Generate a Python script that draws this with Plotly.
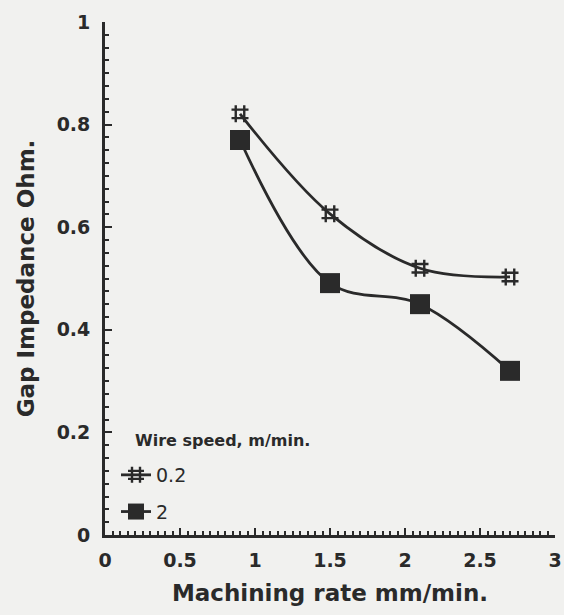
import plotly.graph_objects as go

# Data
rate_02 = [0.9, 1.5, 2.1, 2.7]
imp_02 = [0.821, 0.626, 0.520, 0.503]
rate_2 = [0.9, 1.5, 2.1, 2.7]
imp_2 = [0.770, 0.491, 0.450, 0.320]
series_names = ["0.2", "2"]
legend_title = "Wire speed, m/min."
x_ticks = [0, 0.5, 1, 1.5, 2, 2.5, 3]
x_tick_text = ["0", "0.5", "1", "1.5", "2", "2.5", "3"]
y_ticks = [0, 0.2, 0.4, 0.6, 0.8, 1]
y_tick_text = ["0", "0.2", "0.4", "0.6", "0.8", "1"]

ink = "#2a2a2a"
bg = "#f1f1ef"
dv = "DejaVu Sans, Verdana, sans-serif"

W, H = 564, 615
L, R, T, B = 105, 9, 22, 80

fig = go.Figure()
fig.add_trace(go.Scatter(
    x=rate_02, y=imp_02, name=series_names[0], mode="lines+markers",
    legendgroup="a",
    line=dict(color=ink, width=2.8, shape="spline", smoothing=1.0),
    marker=dict(symbol="hash-open", size=17, color=ink, line=dict(width=2.4, color=ink)),
))
fig.add_trace(go.Scatter(
    x=rate_2, y=imp_2, name=series_names[1], mode="lines+markers",
    legendgroup="b",
    line=dict(color=ink, width=2.8, shape="spline", smoothing=1.0),
    marker=dict(symbol="square", size=20, color=ink, line=dict(width=0)),
))

def px_x(p):
    return (p - L) / (W - L - R)

def px_y(p):
    return (H - B - p) / (H - T - B)

fig.add_annotation(
    text="<b>" + legend_title + "</b>", xref="paper", yref="paper",
    x=px_x(133), y=px_y(440), xanchor="left", yanchor="middle",
    showarrow=False, font=dict(family=dv, size=16, color=ink),
)

tick_font = dict(size=19, family=dv, color=ink)

fig.update_layout(
    width=W, height=H,
    margin=dict(l=L, r=R, t=T, b=B, autoexpand=False),
    paper_bgcolor=bg, plot_bgcolor=bg,
    font=dict(family=dv, color=ink),
    showlegend=True,
    legend=dict(
        x=px_x(116), y=px_y(456), xanchor="left", yanchor="top",
        bgcolor="rgba(0,0,0,0)",
        font=dict(size=19, color=ink, family=dv),
        itemwidth=30, tracegroupgap=9,
    ),
    xaxis=dict(
        range=[0, 3], tickmode="array", tickvals=x_ticks,
        ticktext=["<b>%s</b>" % t for t in x_tick_text],
        automargin=False,
        showgrid=False, zeroline=False, showline=True, linecolor=ink, linewidth=2.8,
        ticks="inside", ticklen=7, tickwidth=2, tickcolor=ink,
        tickfont=tick_font, ticklabelstandoff=6,
        minor=dict(dtick=0.05, ticks="inside", ticklen=4, tickwidth=1.5, tickcolor=ink, showgrid=False),
        title=dict(text="<b>Machining rate mm/min.</b>", font=dict(size=23, color=ink, family=dv), standoff=16),
    ),
    yaxis=dict(
        range=[0, 1], tickmode="array", tickvals=y_ticks,
        ticktext=["<b>%s</b>" % t for t in y_tick_text],
        automargin=False,
        showgrid=False, zeroline=False, showline=True, linecolor=ink, linewidth=2.8,
        ticks="inside", ticklen=7, tickwidth=2, tickcolor=ink,
        tickfont=tick_font, ticklabelstandoff=8,
        minor=dict(dtick=0.025, ticks="inside", ticklen=4, tickwidth=1.5, tickcolor=ink, showgrid=False),
        title=dict(text="<b>Gap Impedance Ohm.</b>", font=dict(size=23, color=ink, family=dv), standoff=16),
    ),
)

fig.write_html("out.html")
